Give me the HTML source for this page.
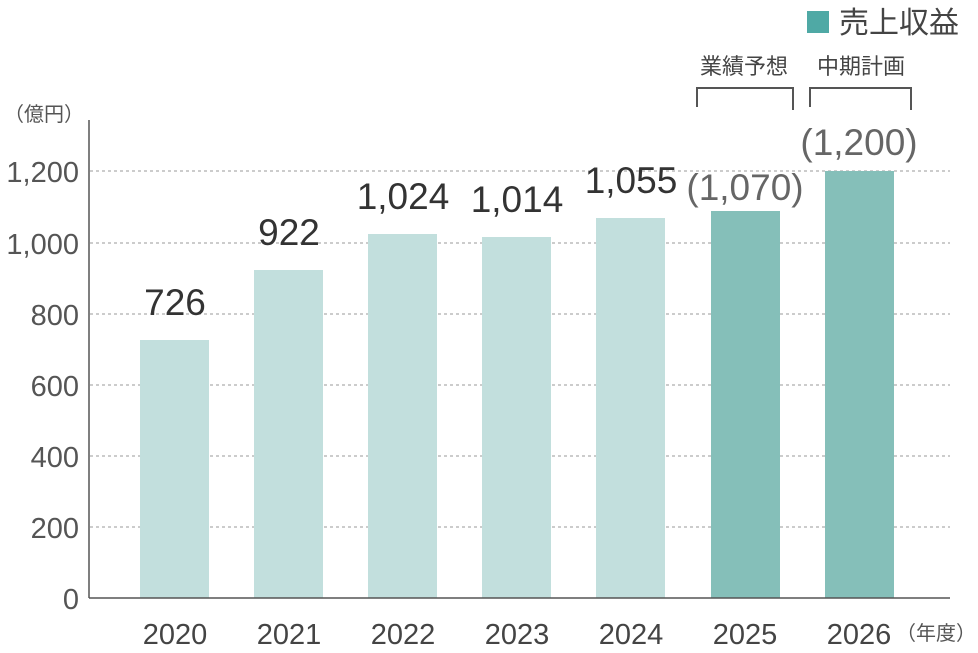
<!DOCTYPE html>
<html><head><meta charset="utf-8"><style>
body{margin:0;background:#fff}
svg{display:block}
text{font-family:"Liberation Sans","Noto Sans CJK JP",sans-serif}
</style></head><body>
<svg width="978" height="653" viewBox="0 0 978 653">
<g stroke="#999" stroke-width="1" stroke-dasharray="3,3">
<line x1="90" y1="171" x2="950" y2="171"/>
<line x1="90" y1="243" x2="950" y2="243"/>
<line x1="90" y1="314" x2="950" y2="314"/>
<line x1="90" y1="385" x2="950" y2="385"/>
<line x1="90" y1="456" x2="950" y2="456"/>
<line x1="90" y1="527" x2="950" y2="527"/>
</g>
<g fill="#c2dfdd">
<rect x="140" y="340" width="69" height="258"/>
<rect x="254" y="270" width="69" height="328"/>
<rect x="368" y="234" width="69" height="364"/>
<rect x="482" y="237" width="69" height="361"/>
<rect x="596" y="218" width="69" height="380"/>
</g>
<g fill="#85bfb9">
<rect x="711" y="211" width="69" height="387"/>
<rect x="825" y="171" width="69" height="427"/>
</g>
<line x1="89" y1="120" x2="89" y2="598" stroke="#555" stroke-width="1.5"/>
<line x1="89" y1="598" x2="950" y2="598" stroke="#555" stroke-width="1.5"/>
<g fill="#555" font-size="29" text-anchor="end">
<text x="79" y="182">1,200</text>
<text x="79" y="254">1,000</text>
<text x="79" y="325">800</text>
<text x="79" y="396">600</text>
<text x="79" y="467">400</text>
<text x="79" y="538">200</text>
<text x="79" y="609">0</text>
</g>
<text x="4" y="121" fill="#555" font-size="20">（億円）</text>
<g fill="#444" font-size="29" text-anchor="middle">
<text x="175" y="644">2020</text>
<text x="289" y="644">2021</text>
<text x="403" y="644">2022</text>
<text x="517" y="644">2023</text>
<text x="631" y="644">2024</text>
<text x="745" y="644">2025</text>
<text x="859" y="644">2026</text>
</g>
<text x="896" y="640" fill="#555" font-size="20">（年度）</text>
<g fill="#333" font-size="37" text-anchor="middle">
<text x="175" y="315">726</text>
<text x="289" y="245">922</text>
<text x="403" y="209">1,024</text>
<text x="517" y="212">1,014</text>
<text x="631" y="193">1,055</text>
</g>
<g fill="#666" font-size="37" text-anchor="middle">
<text x="745" y="200">(1,070)</text>
<text x="859" y="155">(1,200)</text>
</g>
<g fill="none" stroke="#555" stroke-width="2">
<polyline points="697,107 697,88 793,88 793,110"/>
<polyline points="810,107 810,88 911,88 911,110"/>
</g>
<g fill="#444" font-size="22" text-anchor="middle">
<text x="744" y="74">業績予想</text>
<text x="861" y="74">中期計画</text>
</g>
<rect x="807" y="11" width="22" height="22" fill="#4fa9a5"/>
<text x="839" y="33" fill="#444" font-size="30">売上収益</text>
</svg>
</body></html>
